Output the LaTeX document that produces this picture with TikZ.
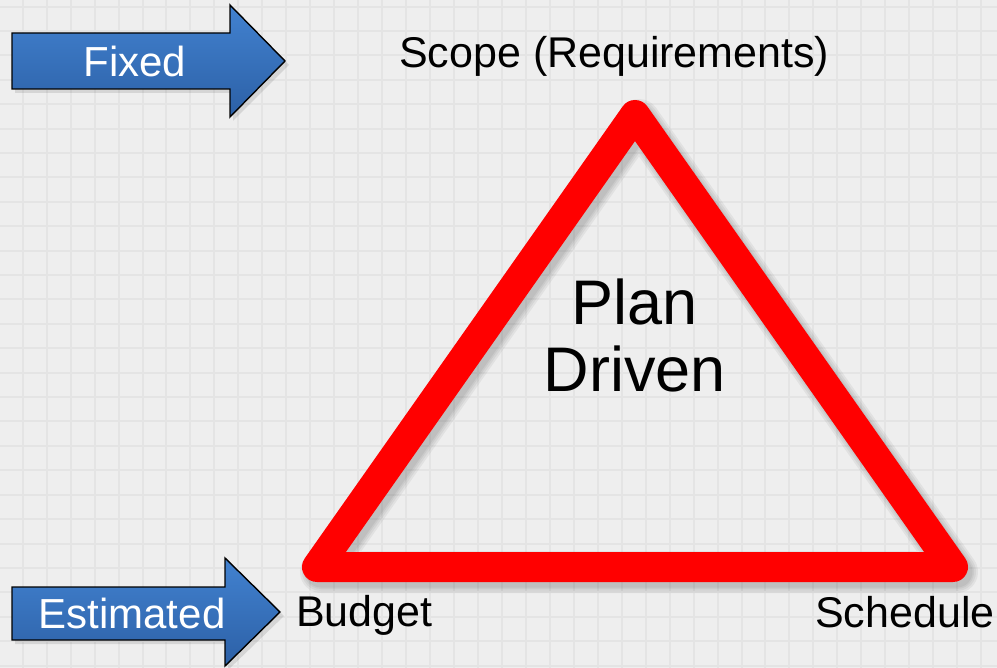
\documentclass[tikz,border=0pt]{standalone}
\usepackage{fontspec}
\setmainfont{Liberation Sans}
\usetikzlibrary{calc}
\definecolor{bgcol}{RGB}{238,238,238}
\definecolor{gridcol}{RGB}{228,228,228}
\definecolor{arrtop}{RGB}{66,130,208}
\definecolor{arrbot}{RGB}{44,96,166}
\definecolor{tri}{RGB}{255,0,0}
\tikzset{
  label text/.style={inner sep=0pt, anchor=base west, font=\fontsize{43}{51}\selectfont, text=black},
  arrow text/.style={inner sep=0pt, anchor=base, font=\fontsize{42}{50}\selectfont, text=white},
  bluearrow/.style={draw=black, line width=1.4pt, line join=miter, top color=arrtop, bottom color=arrbot},
  arrowshadow/.style={fill=black, opacity=0.10},
  triedge/.style={draw=tri, line width=30pt, line join=round, line cap=round},
  trishadow/.style={draw=black, line width=#1, line join=round, opacity=0.05},
  plantext/.style={inner sep=0pt, anchor=base, font=\fontsize{63}{67}\selectfont},
}
\begin{document}
\begin{tikzpicture}[x=1pt,y=-1pt]
\useasboundingbox (0,0) rectangle (997,668);
\fill[bgcol] (0,0) rectangle (997,668);
% grid
\foreach \i in {0,...,41} {
  \draw[gridcol, line width=2pt] ({22.7+23.96*\i},0) -- ({22.7+23.96*\i},668);
}
\foreach \j in {0,...,27} {
  \draw[gridcol, line width=2pt] (0,{6.7+24.4*\j}) -- (997,{6.7+24.4*\j});
}
% triangle vertices
\coordinate (top) at (635,115);
\coordinate (bl) at (317,567);
\coordinate (br) at (953,567);
% triangle shadow
\foreach \w in {42,38,34,31} {
  \draw[trishadow=\w pt] ($(bl)+(4,5)$) -- ($(top)+(4,5)$) -- ($(br)+(4,5)$) -- cycle;
}
\draw[triedge] (bl) -- (top) -- (br) -- cycle;
% Plan Driven
\node[plantext] (plan) at (635,325) {Plan};
\node[plantext] (driven) at (635,392) {Driven};
% labels
\node[label text] (scope) at (399,68) {Scope (Requirements)};
\node[label text] (budget) at (296,626) {Budget};
\node[label text] (schedule) at (815,627) {Schedule};
% Fixed arrow
\fill[arrowshadow] (15,37) -- (233,37) -- (233,9) -- (289,65) -- (233,121) -- (233,93) -- (15,93) -- cycle;
\path[bluearrow] (12,33) -- (230,33) -- (230,5) -- (285,61) -- (230,117) -- (230,89) -- (12,89) -- cycle;
\node[arrow text] (fixed) at (135,77) {Fixed};
% Estimated arrow
\fill[arrowshadow] (15,591) -- (228,591) -- (228,562) -- (284,616) -- (228,670) -- (228,644) -- (15,644) -- cycle;
\path[bluearrow] (12,587) -- (225,587) -- (225,558) -- (280,612) -- (225,666) -- (225,640) -- (12,640) -- cycle;
\node[arrow text] (estimated) at (132,628) {Estimated};
\end{tikzpicture}
\end{document}
